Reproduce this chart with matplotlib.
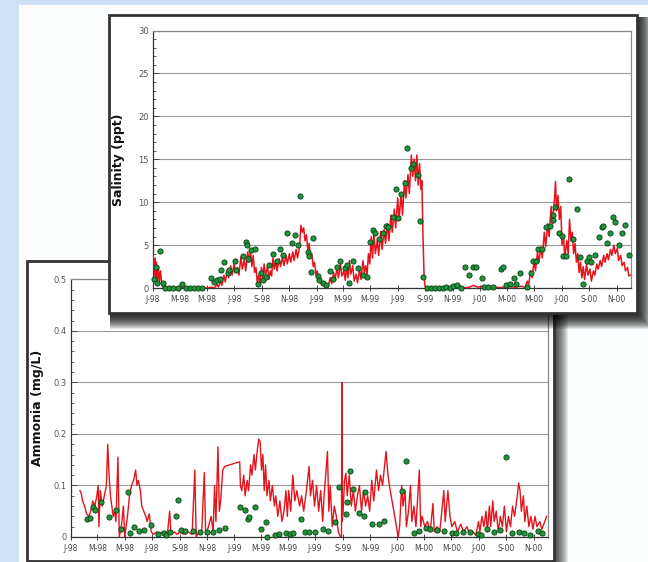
import numpy as np
import matplotlib
matplotlib.use("Agg")
import matplotlib.pyplot as plt
import matplotlib.dates as mdates
from matplotlib.patches import Rectangle
from matplotlib.ticker import MultipleLocator, FuncFormatter

# ---------------------------------------------------------------
# data (x = months since Jan 1998)
# ---------------------------------------------------------------
sal_line_m = [0.0, 0.1, 0.15, 0.2, 0.25, 0.3, 0.4, 0.45, 0.55, 0.65, 0.75, 1.0, 1.5, 2.0, 2.5, 3.0,
              3.5, 4.0, 4.3, 4.5, 4.7, 4.8, 4.95, 5.05, 5.2, 5.3, 5.45, 5.55, 5.7, 5.8, 5.95, 6.05,
              6.2, 6.3, 6.45, 6.55, 6.7, 6.8, 6.95, 7.05, 7.15, 7.25, 7.35, 7.45, 7.55, 7.65, 7.75,
              7.85, 7.95, 8.05, 8.15, 8.25, 8.4, 8.5, 8.6, 8.7, 8.8, 8.9, 9.0, 9.1, 9.25, 9.35, 9.5,
              9.6, 9.75, 9.85, 10.0, 10.1, 10.25, 10.35, 10.5, 10.6, 10.75, 10.85, 10.95, 11.05,
              11.15, 11.25, 11.35, 11.45, 11.55, 11.65, 11.75, 11.85, 11.95, 12.05, 12.15, 12.25,
              12.35, 12.5, 12.6, 12.75, 12.85, 13.0, 13.1, 13.25, 13.35, 13.5, 13.6, 13.75, 13.85,
              14.0, 14.1, 14.2, 14.3, 14.4, 14.5, 14.65, 14.75, 14.9, 15.0, 15.15, 15.25, 15.4,
              15.5, 15.6, 15.7, 15.8, 15.9, 16.0, 16.1, 16.2, 16.3, 16.45, 16.55, 16.7, 16.8,
              16.95, 17.05, 17.2, 17.3, 17.45, 17.55, 17.7, 17.8, 17.95, 18.05, 18.2, 18.3, 18.45,
              18.55, 18.7, 18.8, 18.95, 19.05, 19.15, 19.25, 19.35, 19.45, 19.55, 19.65, 19.72,
              19.8, 19.88, 19.95, 20.1, 20.5, 21.0, 21.5, 22.0, 22.5, 22.8, 23.2, 23.5, 23.8,
              24.2, 24.6, 25.0, 25.5, 26.0, 26.5, 27.0, 27.3, 27.45, 27.55, 27.7, 27.8, 27.95,
              28.05, 28.2, 28.3, 28.45, 28.55, 28.7, 28.8, 28.95, 29.05, 29.2, 29.3, 29.45, 29.52,
              29.6, 29.7, 29.8, 29.9, 30.0, 30.1, 30.2, 30.35, 30.45, 30.55, 30.65, 30.75, 30.85,
              30.95, 31.05, 31.15, 31.25, 31.35, 31.45, 31.55, 31.65, 31.8, 31.9, 32.05, 32.15,
              32.3, 32.4, 32.55, 32.65, 32.8, 32.9, 33.05, 33.15, 33.3, 33.4, 33.55, 33.65, 33.8,
              33.9, 34.05, 34.15, 34.3, 34.4, 34.55, 34.65, 34.8, 34.9, 35.0]
sal_line_v = [3.8, 1.5, 3.5, 1.0, 3.0, 0.8, 2.5, 0.5, 2.0, 0.3, 0.1, 0.0, 0.05, 0.0, 0.05, 0.0,
              0.05, 0.0, 0.1, 0.0, 0.4, 0.1, 0.8, 0.3, 1.5, 0.7, 2.0, 1.2, 2.6, 1.5, 2.8, 1.8,
              2.4, 1.5, 3.6, 2.2, 3.3, 2.0, 4.2, 3.0, 4.4, 2.5, 3.8, 1.8, 2.4, 0.6, 1.5,
              0.5, 2.4, 1.2, 2.8, 1.5, 2.5, 1.0, 2.0, 1.4, 3.5, 2.2, 3.2, 2.0, 3.4, 2.5, 3.6,
              2.6, 3.8, 2.8, 4.0, 3.0, 4.2, 3.2, 4.5, 3.5, 4.8, 7.3, 6.5, 7.0,
              5.5, 6.2, 4.5, 5.2, 3.5, 4.0, 2.5, 3.0, 1.5, 2.0, 0.8, 1.2,
              0.4, 0.6, 0.1, 0.4, 0.2, 1.2, 0.5, 1.8, 0.9, 2.4, 1.2, 2.8, 1.4,
              2.0, 0.9, 2.4, 1.2, 3.2, 1.6, 2.6, 0.8, 1.6, 0.6, 2.2, 1.0, 3.2,
              1.8, 2.6, 1.5, 4.0, 2.8, 6.0, 3.5, 6.5, 4.0, 5.5, 3.8, 6.6, 4.5,
              6.8, 5.2, 7.5, 5.5, 8.5, 6.5, 9.2, 7.0, 10.5, 8.0, 11.0, 8.5, 12.5,
              10.5, 13.2, 11.0, 15.5, 13.0, 15.0, 12.5, 15.5, 12.0, 14.5, 11.5, 12.5,
              6.0, 1.5, 0.2, 0.0, 0.05, 0.0, 0.1, 0.05, 0.2, 0.0, 0.1, 0.3, 0.1,
              0.2, 0.0, 0.1, 0.05, 0.2, 0.1, 0.2, 0.1, 0.8, 0.4, 2.0, 1.2, 3.2,
              2.0, 4.2, 3.0, 4.8, 3.5, 6.5, 4.8, 7.5, 6.0, 9.5, 7.5, 10.5, 12.4,
              9.0, 10.8, 8.0, 9.5, 5.0, 6.2, 3.5, 5.5, 4.0, 8.0, 5.5, 6.5, 4.0,
              5.2, 3.0, 4.0, 1.8, 3.0, 1.2, 2.5, 1.0, 2.8, 1.5, 2.2, 0.8,
              2.0, 1.5, 2.8, 2.2, 3.2, 2.5, 3.8, 3.0, 4.0, 3.3, 4.5, 3.8, 5.0,
              4.0, 4.6, 3.2, 3.8, 2.6, 3.0, 2.0, 2.4, 1.4, 1.5]

sal_dot_m = [0.07, 0.2, 0.3, 0.5, 0.7, 0.9, 1.2, 1.5, 1.8, 2.1, 2.4, 2.7, 3.0, 3.3, 3.6,
             4.25, 4.5, 4.7, 4.9, 5.0, 5.2, 5.5, 5.6, 6.0, 6.1, 6.6, 6.8, 6.9, 7.0, 7.2, 7.5,
             7.7, 7.9, 8.1, 8.3, 8.5, 8.8, 9.1, 9.3, 9.5, 9.8, 10.2, 10.4, 10.6, 10.8, 11.4,
             11.45, 11.6, 11.7, 12.1, 12.2, 12.5, 12.7, 13.0, 13.2, 13.5, 13.7, 14.1, 14.2,
             14.4, 14.7, 15.0, 15.4, 15.7, 15.9, 16.1, 16.3, 16.6, 16.9, 17.1, 17.2, 17.6,
             17.8, 18.0, 18.2, 18.5, 18.6, 18.95, 19.1, 19.4, 19.6, 19.8, 20.1, 20.4, 20.7,
             21.0, 21.3, 21.5, 21.8, 22.0, 22.3, 22.6, 22.9, 23.2, 23.5, 23.7, 24.1, 24.3,
             24.6, 24.9, 25.5, 25.7, 25.9, 26.2, 26.5, 26.6, 26.9, 27.4, 27.7, 27.9, 28.1,
             28.2, 28.5, 28.8, 29.1, 29.3, 29.35, 29.5, 29.8, 30.0, 30.05, 30.3, 30.5, 30.8,
             31.1, 31.3, 31.5, 31.8, 32.0, 32.1, 32.4, 32.7, 32.9, 33.0, 33.3, 33.5, 33.7,
             33.9, 34.2, 34.4, 34.6, 34.9]
sal_dot_v = [1.1, 2.5, 0.6, 4.3, 0.6, 0.05, 0.0, 0.05, 0.0, 0.5, 0.0, 0.05, 0.0, 0.05, 0.0,
             1.2, 0.7, 0.9, 1.1, 2.1, 3.0, 1.8, 2.1, 3.2, 2.1, 3.7, 5.4, 5.0, 3.4, 4.4, 4.6,
             0.5, 1.8, 0.9, 1.3, 2.7, 4.0, 3.2, 4.6, 3.8, 6.4, 5.3, 6.2, 5.0, 10.7, 4.2,
             3.7, 1.9, 5.8, 1.4, 0.9, 0.6, 0.3, 2.0, 1.1, 2.4, 3.2, 2.3, 2.7,
             0.6, 3.2, 2.3, 1.5, 1.3, 5.4, 6.8, 6.4, 5.7, 6.4, 7.2, 7.1, 8.3,
             11.5, 8.1, 11.0, 12.2, 16.3, 14.0, 14.4, 13.2, 7.8, 1.3, 0.0, 0.0, 0.05,
             0.0, 0.05, 0.1, 0.0, 0.2, 0.3, 0.05, 2.5, 1.5, 2.5, 2.5, 1.2, 0.1,
             0.1, 0.1, 2.2, 2.5, 0.3, 0.5, 1.2, 0.5, 1.8, 0.1, 1.8, 3.2, 3.2,
             4.6, 4.5, 7.1, 7.2, 7.9, 8.5, 9.4, 6.4, 6.1, 3.7, 3.7, 12.7, 5.7,
             9.2, 3.6, 0.5, 3.2, 3.6, 3.0, 3.8, 6.0, 7.1, 7.2, 5.2, 6.4, 8.3,
             7.7, 5.0, 6.4, 7.3, 3.8]

amm_line_m = [0.66, 0.75, 0.85, 1.0, 1.15, 1.3, 1.45, 1.6, 1.75, 1.9, 2.0, 2.05, 2.15, 2.3, 2.45,
              2.6, 2.7, 2.8, 2.9, 3.0, 3.1, 3.2, 3.3, 3.45, 3.55, 3.7, 3.85, 3.95, 4.05, 4.15,
              4.3, 4.45, 4.6, 4.75, 4.85, 4.95, 5.1, 5.2, 5.35, 5.5, 5.6, 5.75, 5.9, 6.05, 6.3,
              6.5, 6.7, 6.9, 7.1, 7.25, 7.35, 7.6, 7.8, 8.0, 8.3, 8.6, 8.9, 9.1, 9.2, 9.4, 9.6,
              9.8, 9.9, 10.1, 10.3, 10.45, 10.55, 10.65, 10.8, 10.9, 11.0, 11.15, 11.3, 12.4,
              12.45, 12.55, 12.7, 12.8, 12.95, 13.05, 13.2, 13.3, 13.45, 13.55, 13.7, 13.8,
              13.9, 14.0, 14.1, 14.2, 14.3, 14.4, 14.55, 14.65, 14.8, 14.95, 15.05, 15.2,
              15.35, 15.5, 15.65, 15.8, 15.9, 16.0, 16.15, 16.3, 16.45, 16.6, 16.8, 16.95,
              17.1, 17.3, 17.5, 17.6, 17.75, 17.9, 18.05, 18.2, 18.35, 18.5, 18.6, 18.85,
              18.95, 19.05, 19.2, 19.35, 19.5, 19.65, 19.8, 19.88, 19.9, 19.93, 20.0, 20.1,
              20.2, 20.3, 20.45, 20.6, 20.75, 20.9, 21.05, 21.2, 21.35, 21.5, 21.65, 21.8,
              21.95, 22.1, 22.25, 22.45, 22.6, 22.75, 22.9, 23.05, 23.15, 23.3, 23.4, 24.05,
              24.15, 24.3, 24.4, 24.55, 24.65, 24.8, 24.95, 25.05, 25.2, 25.35, 25.6, 25.7,
              25.8, 26.0, 26.2, 26.4, 26.6, 26.7, 26.9, 27.1, 27.4, 27.5, 27.7, 27.85, 28.0,
              28.2, 28.4, 28.65, 28.85, 29.1, 29.3, 29.55, 29.75, 29.95, 30.05, 30.2, 30.35,
              30.5, 30.6, 30.75, 30.85, 31.0, 31.1, 31.25, 31.4, 31.55, 31.7, 31.85, 32.0,
              32.15, 32.3, 32.45, 32.6, 32.8, 32.9, 33.0, 33.1, 33.25, 33.35, 33.5, 33.65,
              33.8, 33.95, 34.1, 34.25, 34.45, 34.6, 34.75, 34.95]
amm_line_v = [0.09, 0.085, 0.07, 0.06, 0.045, 0.04, 0.05, 0.07, 0.06, 0.08, 0.1, 0.02, 0.09, 0.06, 0.08,
              0.1, 0.18, 0.12, 0.08, 0.06, 0.04, 0.05, 0.03, 0.155, 0.0, 0.02, 0.06, 0.0, 0.02, 0.04,
              0.08, 0.1, 0.11, 0.13, 0.1, 0.11, 0.09, 0.06, 0.05, 0.04, 0.03, 0.045, 0.01, 0.005, 0.01,
              0.005, 0.01, 0.005, 0.01, 0.05, 0.005, 0.01, 0.005, 0.01, 0.005, 0.01, 0.005, 0.13, 0.0, 0.01, 0.005,
              0.125, 0.005, 0.02, 0.04, 0.01, 0.1, 0.03, 0.175, 0.05, 0.07, 0.13, 0.137, 0.146,
              0.1, 0.09, 0.12, 0.08, 0.11, 0.09, 0.14, 0.12, 0.16, 0.13, 0.17, 0.19,
              0.185, 0.13, 0.16, 0.09, 0.14, 0.08, 0.11, 0.07, 0.1, 0.06, 0.08, 0.04,
              0.07, 0.03, 0.05, 0.09, 0.04, 0.09, 0.05, 0.12, 0.07, 0.09, 0.06, 0.08,
              0.05, 0.09, 0.137, 0.08, 0.11, 0.06, 0.1, 0.05, 0.09, 0.03, 0.08, 0.166,
              0.05, 0.1, 0.02, 0.06, 0.04, 0.01, 0.0, 0.0, 0.3, 0.03, 0.05, 0.11,
              0.124, 0.08, 0.12, 0.06, 0.09, 0.05, 0.08, 0.1, 0.05, 0.09, 0.06, 0.08,
              0.05, 0.11, 0.07, 0.13, 0.09, 0.12, 0.1, 0.14, 0.166, 0.12, 0.1, 0.0,
              0.02, 0.1, 0.06, 0.09, 0.02, 0.05, 0.1, 0.03, 0.06, 0.02, 0.13, 0.02,
              0.04, 0.02, 0.03, 0.01, 0.065, 0.01, 0.02, 0.01, 0.09, 0.03, 0.09, 0.04, 0.02,
              0.03, 0.01, 0.025, 0.01, 0.02, 0.005, 0.01, 0.003, 0.03, 0.01, 0.04, 0.02,
              0.05, 0.01, 0.06, 0.02, 0.07, 0.03, 0.05, 0.01, 0.04, 0.02, 0.06, 0.01,
              0.04, 0.02, 0.06, 0.04, 0.08, 0.105, 0.09, 0.05, 0.08, 0.03, 0.06, 0.02,
              0.04, 0.015, 0.04, 0.02, 0.03, 0.015, 0.025, 0.04]

amm_dot_m = [1.2, 1.4, 1.6, 1.8, 2.2, 2.8, 3.3, 3.7, 4.2, 4.3, 4.6, 5.0, 5.4, 5.9, 6.4, 6.8,
             7.0, 7.3, 7.7, 7.9, 8.1, 8.4, 9.0, 9.5, 10.0, 10.4, 10.9, 11.3, 12.4, 12.8, 13.0,
             13.1, 13.5, 14.0, 14.35, 14.4, 15.0, 15.3, 15.8, 16.1, 16.3, 16.9, 17.2, 17.5,
             17.9, 18.5, 18.9, 19.4, 19.7, 20.2, 20.3, 20.5, 20.7, 21.2, 21.5, 21.6, 22.1,
             22.6, 23.0, 24.3, 24.6, 25.2, 25.6, 26.1, 26.4, 26.9, 27.4, 28.0, 28.3, 28.8,
             29.3, 29.9, 30.1, 30.6, 31.1, 31.5, 32.0, 32.4, 32.9, 33.3, 33.7, 34.3, 34.6]
amm_dot_v = [0.035, 0.037, 0.058, 0.052, 0.068, 0.039, 0.053, 0.016, 0.087, 0.008, 0.019, 0.012,
             0.014, 0.023, 0.006, 0.008, 0.003, 0.01, 0.04, 0.072, 0.013, 0.012, 0.011, 0.01,
             0.01, 0.01, 0.013, 0.017, 0.058, 0.053, 0.034, 0.038, 0.058, 0.015, 0.03, 0.0,
             0.003, 0.006, 0.008, 0.005, 0.008, 0.034, 0.009, 0.009, 0.009, 0.016, 0.012,
             0.03, 0.097, 0.045, 0.068, 0.129, 0.094, 0.047, 0.04, 0.087, 0.025, 0.025,
             0.031, 0.09, 0.147, 0.007, 0.012, 0.018, 0.015, 0.014, 0.012, 0.007, 0.008,
             0.01, 0.009, 0.005, 0.004, 0.015, 0.01, 0.014, 0.156, 0.008, 0.01, 0.007,
             0.004, 0.012, 0.008]

W, H = 648, 562
RED = '#e3141b'
GREEN = '#23963c'
DKGREEN = '#0d4a1c'


def to_dates(months):
    base = np.datetime64('1998-01-01T00')
    return base + (np.asarray(months) * 30.4375 * 24).astype('timedelta64[h]')


def px_rect(x0, y0, x1, y1):
    return [x0 / W, 1 - y1 / H, (x1 - x0) / W, (y1 - y0) / H]


# soft drop shadow, spreading mostly to the right and down
def add_shadow(fig, x0, y0, x1, y1, dx, dy, blur, z, a=0.09):
    for i in range(blur):
        g = blur - i
        r = px_rect(x0 + dx, y0 + dy, x1 + dx + g, y1 + dy + g)
        fig.add_artist(Rectangle((r[0], r[1]), r[2], r[3], transform=fig.transFigure,
                                 facecolor='black', edgecolor='none', alpha=a, zorder=z))


def add_frame(fig, x0, y0, x1, y1, z):
    r = px_rect(x0, y0, x1, y1)
    fig.add_artist(Rectangle((r[0], r[1]), r[2], r[3], transform=fig.transFigure,
                             facecolor='white', edgecolor='#333333', lw=2.0, zorder=z))


def month_fmt(x, pos):
    d = mdates.num2date(x)
    return d.strftime('%b')[0] + '-' + d.strftime('%y')


def style_axes(ax, ymax, ymajor, yminor, label, lx):
    ax.set_facecolor('white')
    ax.set_xlim(np.datetime64('1998-01-01'), np.datetime64('2000-12-03'))
    ax.set_ylim(0, ymax)
    ax.yaxis.set_major_locator(MultipleLocator(ymajor))
    ax.yaxis.set_minor_locator(MultipleLocator(yminor))
    ax.yaxis.set_major_formatter(FuncFormatter(lambda v, p: '%g' % round(v, 3)))
    ax.xaxis.set_major_locator(mdates.MonthLocator(bymonth=(1, 3, 5, 7, 9, 11)))
    ax.xaxis.set_major_formatter(FuncFormatter(month_fmt))
    ax.grid(axis='y', color='#9a9a9a', lw=0.8)
    ax.set_axisbelow(True)
    ax.tick_params(axis='x', direction='inout', length=4, width=0.7, color='#444',
                   labelsize=5.5, labelcolor='#444', pad=3)
    ax.tick_params(axis='y', which='major', direction='in', length=4, width=0.7,
                   color='#444', labelsize=6, labelcolor='#555', pad=3)
    ax.tick_params(axis='y', which='minor', direction='in', length=2, width=0.6, color='#444')
    for s in ('top', 'right'):
        ax.spines[s].set_color('#888888')
        ax.spines[s].set_linewidth(0.9)
    for s in ('left', 'bottom'):
        ax.spines[s].set_color('#333333')
        ax.spines[s].set_linewidth(0.9)
    ax.set_ylabel(label, fontsize=9, fontweight='bold', color='#111')
    ax.yaxis.set_label_coords(lx, 0.5)


fig = plt.figure(figsize=(W / 100, H / 100), dpi=100)
fig.patch.set_facecolor('#cfe1f4')

# white backdrop
r = px_rect(19, 5, W + 5, H + 5)
fig.add_artist(Rectangle((r[0], r[1]), r[2], r[3], transform=fig.transFigure,
                         facecolor='#fbfdff', edgecolor='none', zorder=0.5))

# ammonia panel (behind)
add_shadow(fig, 27, 261, 554, 561, 2, 4, 12, 1, a=0.08)
add_frame(fig, 27, 261, 554, 561, 1.5)
ax2 = fig.add_axes(px_rect(71, 279.3, 548, 537))
ax2.set_zorder(2)
style_axes(ax2, 0.5, 0.1, 0.02, 'Ammonia (mg/L)', -0.056)
ax2.plot(to_dates(amm_line_m), amm_line_v, color=RED, lw=1.0, zorder=3)
ax2.plot(to_dates(amm_dot_m), amm_dot_v, 'o', ms=3.7, mfc=GREEN, mec=DKGREEN, mew=0.7,
         zorder=4, clip_on=False)

# salinity panel (front)
add_shadow(fig, 109, 15, 637, 313, 1, 2, 14, 3, a=0.1)
add_frame(fig, 109, 15, 637, 313, 3.5)
ax1 = fig.add_axes(px_rect(153, 30.5, 631, 288))
ax1.set_zorder(5)
style_axes(ax1, 30, 5, 1, 'Salinity (ppt)', -0.058)
ax1.plot(to_dates(sal_line_m), sal_line_v, color=RED, lw=1.1, zorder=3)
ax1.plot(to_dates(sal_dot_m), sal_dot_v, 'o', ms=3.7, mfc=GREEN, mec=DKGREEN, mew=0.7,
         zorder=4, clip_on=False)

fig.savefig('out.png', dpi=100, facecolor=fig.get_facecolor())
